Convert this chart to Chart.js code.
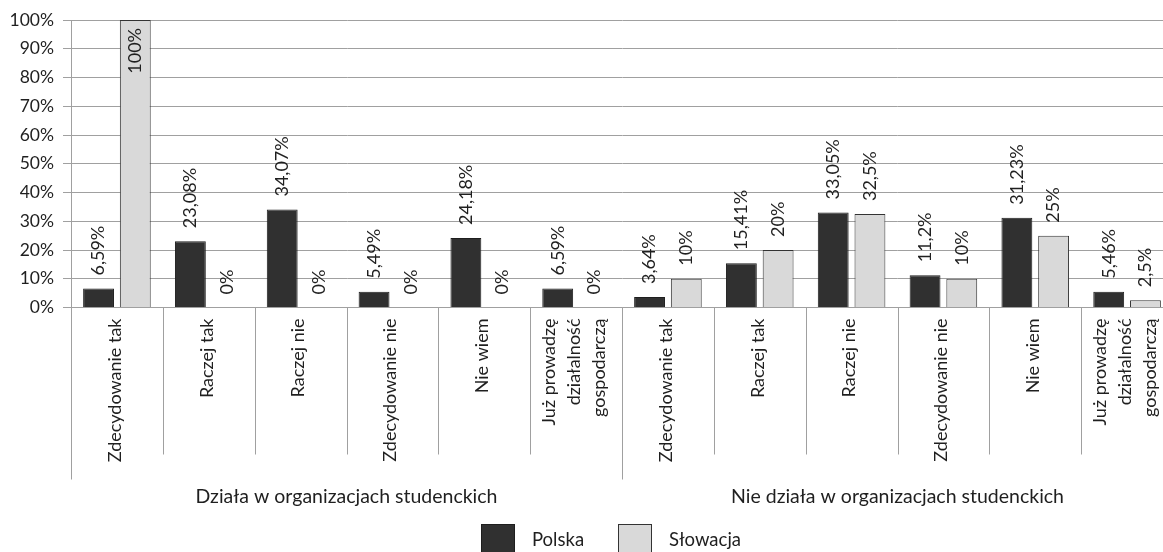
<!DOCTYPE html>
<html>
<head>
<meta charset="utf-8">
<script src="https://cdn.jsdelivr.net/npm/chart.js@4.4.1/dist/chart.umd.min.js"></script>
<style>
  html, body { margin: 0; padding: 0; background: #ffffff; overflow: hidden; }
  #wrap { position: absolute; left: 0; top: 0; width: 1173px; height: 552px; }
</style>
</head>
<body>
<div id="wrap"><canvas id="c"></canvas></div>
<script>
// ---- data ----
const categories = [
  "Zdecydowanie tak", "Raczej tak", "Raczej nie", "Zdecydowanie nie", "Nie wiem",
  ["Już prowadzę", "działalność", "gospodarczą"],
  "Zdecydowanie tak", "Raczej tak", "Raczej nie", "Zdecydowanie nie", "Nie wiem",
  ["Już prowadzę", "działalność", "gospodarczą"]
];
const groupLabels = ["Działa w organizacjach studenckich", "Nie działa w organizacjach studenckich"];
const groupSizes = [6, 6];
const seriesNames = ["Polska", "Słowacja"];
const polska = [6.59, 23.08, 34.07, 5.49, 24.18, 6.59, 3.64, 15.41, 33.05, 11.2, 31.23, 5.46];
const slowacja = [100, 0, 0, 0, 0, 0, 10, 20, 32.5, 10, 25, 2.5];
const yTicks = [0, 10, 20, 30, 40, 50, 60, 70, 80, 90, 100];

// ---- styles ----
const FONT = 'Lato, "Open Sans", sans-serif';
const TEXT = '#1f1f1f';
const GRID = '#a0a0a0';

function fmt(v) { return String(v).replace('.', ',') + '%'; }

const valueLabels = {
  id: 'valueLabels',
  afterDatasetsDraw(chart) {
    const ctx = chart.ctx;
    const area = chart.chartArea;
    ctx.save();
    ctx.font = '18px ' + FONT;
    ctx.fillStyle = TEXT;
    ctx.textBaseline = 'middle';
    chart.data.datasets.forEach((ds, di) => {
      const meta = chart.getDatasetMeta(di);
      meta.data.forEach((bar, i) => {
        const txt = fmt(ds.data[i]);
        const w = ctx.measureText(txt).width;
        let y = bar.y - 13;
        ctx.save();
        if (y - w < area.top) {
          ctx.translate(bar.x, area.top + 8);
          ctx.rotate(-Math.PI / 2);
          ctx.textAlign = 'right';
        } else {
          ctx.translate(bar.x, y);
          ctx.rotate(-Math.PI / 2);
          ctx.textAlign = 'left';
        }
        ctx.fillText(txt, 0, 0);
        ctx.restore();
      });
    });
    ctx.restore();
  }
};

const axisDecor = {
  id: 'axisDecor',
  afterDraw(chart) {
    const ctx = chart.ctx;
    const xs = chart.scales.x;
    const area = chart.chartArea;
    const n = categories.length;
    const half = (xs.getPixelForValue(1) - xs.getPixelForValue(0)) / 2;
    const bottom = area.bottom;
    ctx.save();
    // separators
    ctx.strokeStyle = GRID;
    ctx.lineWidth = 1;
    const groupEdges = new Set();
    let acc = 0;
    groupEdges.add(0);
    groupSizes.forEach(s => { acc += s; groupEdges.add(acc); });
    for (let k = 0; k <= n; k++) {
      const x = Math.round(xs.getPixelForValue(0) - half + k * 2 * half) + 0.5;
      const yEnd = groupEdges.has(k) ? bottom + 172 : bottom + 147;
      ctx.beginPath();
      ctx.moveTo(x, bottom);
      ctx.lineTo(x, yEnd);
      ctx.stroke();
    }
    // category labels
    ctx.font = '18px ' + FONT;
    ctx.fillStyle = TEXT;
    ctx.textBaseline = 'middle';
    ctx.textAlign = 'right';
    const lh = 25;
    categories.forEach((lab, i) => {
      const lines = Array.isArray(lab) ? lab : [lab];
      const cx = xs.getPixelForValue(i);
      lines.forEach((ln, j) => {
        const off = (j - (lines.length - 1) / 2) * lh - 2;
        ctx.save();
        ctx.translate(cx + off, bottom + 11);
        ctx.rotate(-Math.PI / 2);
        ctx.fillText(ln, 0, 0);
        ctx.restore();
      });
    });
    // group labels
    ctx.font = '19.5px ' + FONT;
    ctx.textAlign = 'center';
    ctx.textBaseline = 'alphabetic';
    let start = 0;
    groupSizes.forEach((s, g) => {
      const x0 = xs.getPixelForValue(start) - half;
      const x1 = xs.getPixelForValue(start + s - 1) + half;
      ctx.fillText(groupLabels[g], (x0 + x1) / 2, bottom + 195);
      start += s;
    });
    // legend
    ctx.font = '18.5px ' + FONT;
    const legendX = [481, 618];
    chart.data.datasets.forEach((ds, di) => {
      const bx = legendX[di];
      const by = 524;
      ctx.fillStyle = ds.backgroundColor;
      ctx.fillRect(bx, by, 34, 34);
      ctx.strokeStyle = ds.borderColor;
      ctx.lineWidth = 1;
      ctx.strokeRect(bx + 0.5, by + 0.5, 33, 33);
      ctx.fillStyle = TEXT;
      ctx.textAlign = 'left';
      ctx.textBaseline = 'middle';
      ctx.fillText(ds.label, bx + 51, 540);
    });
    ctx.restore();
  }
};

Chart.defaults.font.family = FONT;
Chart.defaults.font.size = 17;
Chart.defaults.color = TEXT;

new Chart(document.getElementById('c'), {
  type: 'bar',
  data: {
    labels: categories,
    datasets: [
      { label: seriesNames[0], data: polska, backgroundColor: '#303030', borderColor: '#1e1e1e', borderWidth: 1 },
      { label: seriesNames[1], data: slowacja, backgroundColor: '#d9d9d9', borderColor: '#333333', borderWidth: 1 }
    ]
  },
  options: {
    responsive: true,
    maintainAspectRatio: false,
    animation: false,
    devicePixelRatio: 1,
    layout: { padding: { top: 20, left: 0, right: 0, bottom: 0 } },
    datasets: { bar: { categoryPercentage: 0.8, barPercentage: 0.84 } },
    plugins: { legend: { display: false }, tooltip: { enabled: false } },
    scales: {
      x: {
        ticks: { display: false },
        grid: { display: false },
        border: { display: true, color: GRID, width: 1 },
        afterFit(scale) { scale.height = 244.5; }
      },
      y: {
        min: 0, max: 100,
        afterBuildTicks(scale) { scale.ticks = yTicks.map(v => ({ value: v })); },
        ticks: { callback: v => v + '%', padding: 9, font: { size: 17.5 }, color: TEXT },
        grid: { color: GRID, lineWidth: 1, tickLength: 8, drawTicks: true },
        border: { display: true, color: GRID, width: 1 },
        afterFit(scale) { scale.width = 71; }
      }
    }
  },
  plugins: [valueLabels, axisDecor]
});
</script>
</body>
</html>
